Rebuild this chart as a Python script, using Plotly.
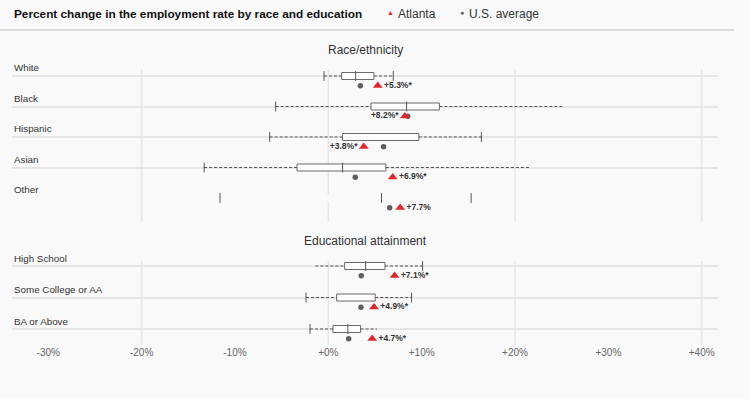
import plotly.graph_objects as go

# ---------------- data ----------------
race_cats = ["White", "Black", "Hispanic", "Asian", "Other"]
race_lo = [-0.46, -5.64, -6.28, -13.3, -11.6]
race_q1 = [1.43, 4.57, 1.53, -3.35, None]
race_med = [2.93, 8.39, None, 1.53, 5.7]
race_q3 = [4.89, 11.9, 9.7, 6.17, None]
race_hi = [6.96, 25.1, 16.4, 21.6, 15.3]
race_lo_cap = [True, True, True, True, True]
race_hi_cap = [True, False, True, False, True]
race_atl = [5.3, 8.2, 3.8, 6.9, 7.7]
race_sig = [True, True, True, True, False]
race_us = [3.43, 8.5, 5.92, 2.89, 6.57]

edu_cats = ["High School", "Some College or AA", "BA or Above"]
edu_lo = [-1.39, -2.39, -1.96]
edu_q1 = [1.75, 0.89, 0.5]
edu_med = [4.0, None, 2.1]
edu_q3 = [6.07, 5.03, 3.46]
edu_hi = [10.1, 8.92, 5.2]
edu_lo_cap = [False, True, True]
edu_hi_cap = [True, True, False]
edu_atl = [7.1, 4.9, 4.7]
edu_sig = [True, True, True]
edu_us = [3.53, 3.5, 2.18]

tick_vals = [-30, -20, -10, 0, 10, 20, 30, 40]
tick_text = ["-30%", "-20%", "-10%", "+0%", "+10%", "+20%", "+30%", "+40%"]
grid_vals = [-20, 0, 20, 40]

# ---------------- style ----------------
BG = "#f9f9f9"
GRID = "#e6e6e6"
BOX = "#6b6b6b"
WHISK = "#555555"
RED = "#e3262b"
DOT = "#5f5f5f"
FONT = "Liberation Sans, Arial, sans-serif"
W, H = 750, 399

# pixel geometry of the two panels
RACE_TOP, RACE_BOT, RACE_ROW0, RACE_STEP = 70, 222, 76, 30.5
EDU_TOP, EDU_BOT, EDU_ROW0, EDU_STEP = 261, 345, 266, 31.5

fig = go.Figure()


def add_panel(cats, lo, q1, med, q3, hi, locap, hicap, atl, sig, us,
              yaxis, box_w, off, other_idx=None):
    pos = list(range(len(cats)))
    if other_idx is not None:
        i = other_idx
        fig.add_trace(go.Bar(y=[pos[i]], base=[lo[i]], x=[hi[i] - lo[i]],
                             orientation="h", width=box_w,
                             marker=dict(color=BG, line=dict(width=0)),
                             yaxis=yaxis, showlegend=False, hoverinfo="skip"))
    wx, wy = [], []
    for i, p in enumerate(pos):
        if q1[i] is None or q3[i] is None:
            continue
        wx += [lo[i], q1[i], None, q3[i], hi[i], None]
        wy += [p, p, None, p, p, None]
    fig.add_trace(go.Scatter(x=wx, y=wy, mode="lines", yaxis=yaxis,
                             line=dict(color=WHISK, width=1, dash="3px,2px"),
                             showlegend=False, hoverinfo="skip"))
    bi = [i for i in pos if q1[i] is not None and q3[i] is not None]
    fig.add_trace(go.Bar(y=[pos[i] for i in bi], base=[q1[i] for i in bi],
                         x=[q3[i] - q1[i] for i in bi], orientation="h",
                         width=box_w, yaxis=yaxis,
                         marker=dict(color="white", line=dict(color=BOX, width=1)),
                         showlegend=False, hoverinfo="skip"))
    cx, cy = [], []
    for i, p in enumerate(pos):
        if locap[i]:
            cx.append(lo[i]); cy.append(p)
        if hicap[i]:
            cx.append(hi[i]); cy.append(p)
        if med[i] is not None:
            cx.append(med[i]); cy.append(p)
    fig.add_trace(go.Scatter(x=cx, y=cy, mode="markers", yaxis=yaxis,
                             marker=dict(symbol="line-ns", size=7,
                                         line=dict(color=WHISK, width=1)),
                             showlegend=False, hoverinfo="skip"))
    fig.add_trace(go.Scatter(x=us, y=[p + off for p in pos], mode="markers",
                             yaxis=yaxis,
                             marker=dict(symbol="circle", size=5.5, color=DOT),
                             showlegend=False, hoverinfo="skip"))
    texts = ["<b>+%.1f%%%s</b>" % (v, "*" if s else "") for v, s in zip(atl, sig)]
    tpos = ["middle left" if u > a else "middle right" for u, a in zip(us, atl)]
    fig.add_trace(go.Scatter(x=atl, y=[p + off for p in pos], mode="markers+text",
                             yaxis=yaxis, text=texts, textposition=tpos,
                             textfont=dict(size=8.5, color="#333333", family=FONT),
                             marker=dict(symbol="triangle-up", size=8.5, color=RED),
                             showlegend=False, hoverinfo="skip"))


add_panel(race_cats, race_lo, race_q1, race_med, race_q3, race_hi,
          race_lo_cap, race_hi_cap, race_atl, race_sig, race_us,
          "y", 7 / RACE_STEP, 9.7 / RACE_STEP, other_idx=4)
add_panel(edu_cats, edu_lo, edu_q1, edu_med, edu_q3, edu_hi,
          edu_lo_cap, edu_hi_cap, edu_atl, edu_sig, edu_us,
          "y2", 7 / EDU_STEP, 9.7 / EDU_STEP)

shapes = []
for v in grid_vals:
    for yr in ["y domain", "y2 domain"]:
        shapes.append(dict(type="line", xref="x", yref=yr, x0=v, x1=v, y0=0, y1=1,
                           line=dict(color=GRID, width=1.5), layer="below"))
shapes.append(dict(type="line", xref="paper", yref="paper", x0=0, x1=734 / W,
                   y0=1 - 30 / H, y1=1 - 30 / H, line=dict(color="#dddddd", width=2)))

annotations = []
for i, c in enumerate(race_cats):
    ypx = RACE_ROW0 + RACE_STEP * i - 8.3
    annotations.append(dict(text=c, xref="paper", yref="paper", x=12 / W,
                            y=1 - ypx / H, xanchor="left", yanchor="middle",
                            showarrow=False,
                            font=dict(size=9.8, color="#333333", family=FONT)))
for i, c in enumerate(edu_cats):
    ypx = EDU_ROW0 + EDU_STEP * i - 8.0
    annotations.append(dict(text=c, xref="paper", yref="paper", x=12 / W,
                            y=1 - ypx / H, xanchor="left", yanchor="middle",
                            showarrow=False,
                            font=dict(size=9.8, color="#333333", family=FONT)))
annotations += [
    dict(text="Race/ethnicity", xref="paper", yref="paper", x=365 / W, y=1 - 50 / H,
         xanchor="center", yanchor="middle", showarrow=False,
         font=dict(size=12, color="#333333", family=FONT)),
    dict(text="Educational attainment", xref="paper", yref="paper", x=365 / W,
         y=1 - 241 / H, xanchor="center", yanchor="middle", showarrow=False,
         font=dict(size=12, color="#333333", family=FONT)),
    dict(text="<b>Percent change in the employment rate by race and education</b>",
         xref="paper", yref="paper", x=12 / W, y=1 - 14 / H, xanchor="left",
         yanchor="middle", showarrow=False,
         font=dict(size=11.8, color="#111111", family=FONT)),
    dict(text="▲", xref="paper", yref="paper", x=390 / W, y=1 - 13 / H,
         xanchor="center", yanchor="middle", showarrow=False,
         font=dict(size=7, color=RED, family=FONT)),
    dict(text="Atlanta", xref="paper", yref="paper", x=396 / W, y=1 - 14 / H,
         xanchor="left", yanchor="middle", showarrow=False,
         font=dict(size=12, color="#333333", family=FONT)),
    dict(text="●", xref="paper", yref="paper", x=462 / W, y=1 - 13 / H,
         xanchor="center", yanchor="middle", showarrow=False,
         font=dict(size=7, color=DOT, family=FONT)),
    dict(text="U.S. average", xref="paper", yref="paper", x=467 / W, y=1 - 14 / H,
         xanchor="left", yanchor="middle", showarrow=False,
         font=dict(size=12, color="#333333", family=FONT)),
]

x0px, x1px, zpx, per10 = 12, 718, 328.3, 93.35
fig.update_layout(
    width=W, height=H, margin=dict(l=0, r=0, t=0, b=0),
    paper_bgcolor=BG, plot_bgcolor=BG, barmode="overlay",
    font=dict(family=FONT),
    xaxis=dict(domain=[x0px / W, x1px / W],
               range=[(x0px - zpx) / per10 * 10, (x1px - zpx) / per10 * 10],
               anchor="y2", tickvals=tick_vals, ticktext=tick_text,
               showgrid=False, zeroline=False, showline=False, ticks="",
               tickfont=dict(size=10, color="#666666", family=FONT)),
    yaxis=dict(domain=[1 - RACE_BOT / H, 1 - RACE_TOP / H],
               range=[(RACE_BOT - RACE_ROW0) / RACE_STEP, (RACE_TOP - RACE_ROW0) / RACE_STEP],
               tickvals=[0, 1, 2, 3], showticklabels=False, ticks="",
               showgrid=True, gridcolor=GRID, gridwidth=1.5, zeroline=False),
    yaxis2=dict(domain=[1 - EDU_BOT / H, 1 - EDU_TOP / H],
                range=[(EDU_BOT - EDU_ROW0) / EDU_STEP, (EDU_TOP - EDU_ROW0) / EDU_STEP],
                anchor="x", tickvals=[0, 1, 2], showticklabels=False, ticks="",
                showgrid=True, gridcolor=GRID, gridwidth=1.5, zeroline=False),
    shapes=shapes, annotations=annotations, showlegend=False,
)

fig.write_html("out.html", config={"displayModeBar": False},
               post_script="document.body.style.margin='0';")
